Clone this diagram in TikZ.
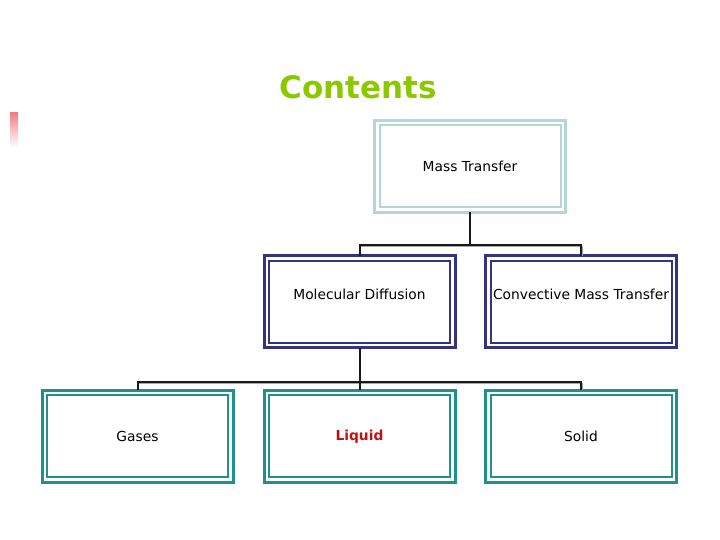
\documentclass[tikz,border=0pt]{standalone}
\usepackage{fontspec}
\setmainfont{DejaVu Sans}
\usetikzlibrary{calc}
\definecolor{titlegreen}{HTML}{8CC800}
\definecolor{topblue}{HTML}{B4D6DA}
\definecolor{navy}{HTML}{33337F}
\definecolor{teal2}{HTML}{1E9090}
\definecolor{liqred}{HTML}{C41010}
\definecolor{pinkmark}{HTML}{F07F8A}
\tikzset{
  box/.style={minimum width=191pt, minimum height=92pt, inner sep=0pt, outer sep=0pt, line width=3pt, font=\fontsize{13.8}{16}\selectfont},
  topbox/.style={box, draw=topblue},
  midbox/.style={box, draw=navy},
  botbox/.style={box, draw=teal2},
  conn/.style={line width=2pt, draw=black!90},
  shadowline/.style={line width=1.5pt, draw=black!35},
}
\newcommand{\innerrect}[2]{\draw[#2, line width=2pt] ($(#1.north west)+(5pt,-5pt)$) rectangle ($(#1.south east)+(-5pt,5pt)$);}
\begin{document}
\begin{tikzpicture}
\useasboundingbox (0,0) rectangle (720pt,540pt);
% pink mark
\shade[top color=pinkmark, bottom color=white] (10pt,427pt) rectangle (18pt,393pt);
% title
\node[font=\fontsize{31}{36}\selectfont\bfseries, text=titlegreen] (title) at (358pt,453pt) {Contents};
% boxes
\node[topbox] (mt) at (470pt,373.5pt) {Mass Transfer};
\node[midbox] (md) at (359.5pt,238pt) {};
\node[midbox] (cm) at (581pt,238pt) {};
\node[botbox] (ga) at (137.5pt,103.5pt) {Gases};
\node[botbox] (li) at (359.5pt,103.5pt) {\textcolor{liqred}{\bfseries Liquid}};
\node[botbox] (so) at (581pt,103.5pt) {Solid};
\node[font=\fontsize{13.8}{16}\selectfont] (mdt) at (359.5pt,246pt) {Molecular Diffusion};
\node[font=\fontsize{13.8}{16}\selectfont] (cmt) at (581pt,246pt) {Convective Mass Transfer};
\innerrect{mt}{topblue}
\innerrect{md}{navy}
\innerrect{cm}{navy}
\innerrect{ga}{teal2}
\innerrect{li}{teal2}
\innerrect{so}{teal2}
% connectors
\coordinate (j1) at (470pt,295pt);
\coordinate (j2) at (359.5pt,158pt);
\draw[shadowline] ($(j1 -| md.north)+(1.2pt,-1.6pt)$) -- ($(j1 -| cm.north)+(1.2pt,-1.6pt)$) -- ($(cm.north)+(1.2pt,0)$);
\draw[shadowline] ($(j2 -| ga.north)+(1.2pt,-1.6pt)$) -- ($(j2 -| so.north)+(1.2pt,-1.6pt)$) -- ($(so.north)+(1.2pt,0)$);
\draw[conn] (mt.south) -- (j1) -| (md.north);
\draw[conn] (j1) -| (cm.north);
\draw[conn] (md.south) -- (j2) -| (ga.north);
\draw[conn] (j2) -| (so.north);
\draw[conn] (j2) -- (li.north);
\end{tikzpicture}
\end{document}
